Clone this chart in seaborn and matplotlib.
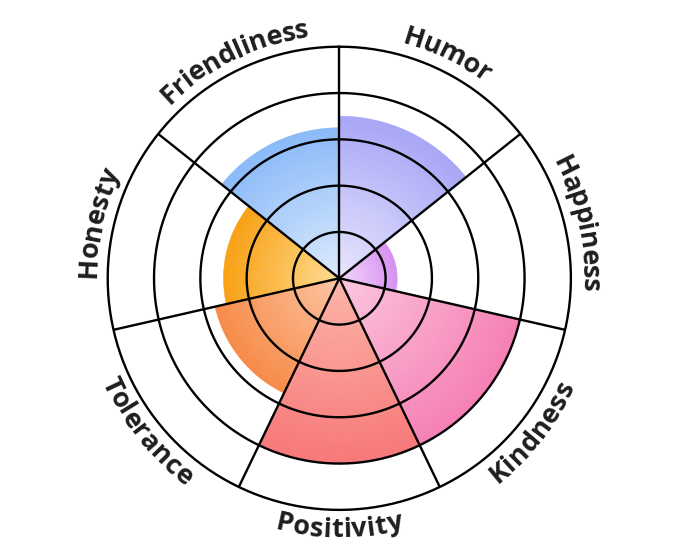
import numpy as np
import seaborn as sns
import matplotlib.pyplot as plt

# wheel data, scale 0-10
categories = ['Humor', 'Happiness', 'Kindness', 'Positivity', 'Tolerance', 'Honesty', 'Friendliness']
scores = [7, 2.5, 8, 8, 5.5, 5, 6.5]
inner_colors = ['#e6e6fd', '#f2d6fb', '#fcc6de', '#fcb4a8', '#fcc4a0', '#fedc90', '#dcebfd']
outer_colors = ['#a8a6f6', '#d690f2', '#f57fb5', '#f77878', '#f78a48', '#f8a012', '#8abaf8']
ring_levels = [2, 4, 6, 8, 10]

sns.set_theme(style='white')
plt.rcParams['font.family'] = ['Open Sans', 'DejaVu Sans']

fig = plt.figure(figsize=(6.8, 5.57), dpi=100)
cx, cy, R = 339.3, 278.3, 231.6   # centre and outer radius in pixels
ax = fig.add_axes([(cx - R) / 680, (557 - cy - R) / 557, 2 * R / 680, 2 * R / 557],
                  projection='polar')
ax.set_theta_zero_location('N')
ax.set_theta_direction(-1)
ax.set_ylim(0, 10)
ax.set_xticks([])
ax.set_yticks([])
ax.grid(False)
ax.spines['polar'].set_visible(False)
ax.set_facecolor('white')

n = len(categories)
width = 2 * np.pi / n
mids = np.arange(n) * width + width / 2

# gradient fill: stack thin bars from light to saturated
steps = 60
for i in range(n):
    pal = sns.blend_palette([inner_colors[i], outer_colors[i]], n_colors=steps)
    h = scores[i] / steps
    for k in range(steps):
        ax.bar(mids[i], h, width=width, bottom=k * h, color=pal[k],
               edgecolor=pal[k], linewidth=0.4, zorder=2)

# rings and spokes
t = np.linspace(0, 2 * np.pi, 500)
for r in ring_levels:
    ax.plot(t, np.full_like(t, r), color='black', lw=1.7, zorder=5, clip_on=False)
for k in range(n):
    ax.plot([k * width, k * width], [0, 10], color='black', lw=1.7, zorder=5,
            solid_capstyle='butt')

# curved labels around the rim
renderer = fig.canvas.get_renderer()
px_per_unit = R / 10
fs = 19.5


def text_w(s):
    tt = fig.text(0, 0, s, fontsize=fs, fontweight='bold')
    w = tt.get_window_extent(renderer).width
    tt.remove()
    return w


for i, label in enumerate(categories):
    theta_mid = mids[i]
    inward = np.pi / 2 < theta_mid < 3 * np.pi / 2
    cum = [text_w(label[:k]) if k > 0 else 0 for k in range(len(label) + 1)]
    total = cum[-1]
    if inward:
        r_base, r_space = 259, 250
    else:
        r_base, r_space = 243, 252
    for k, ch in enumerate(label):
        c = (cum[k] + cum[k + 1]) / 2 - total / 2
        dth = c / r_space
        if inward:
            th = theta_mid - dth
            rot = 180 - np.degrees(th)
        else:
            th = theta_mid + dth
            rot = -np.degrees(th)
        ax.text(th, r_base / px_per_unit, ch, fontsize=fs, fontweight='bold',
                color='#1e1e1e', rotation=rot, rotation_mode='anchor',
                ha='center', va='baseline', clip_on=False, zorder=6)

fig.savefig('out.png', dpi=100, facecolor='white')
